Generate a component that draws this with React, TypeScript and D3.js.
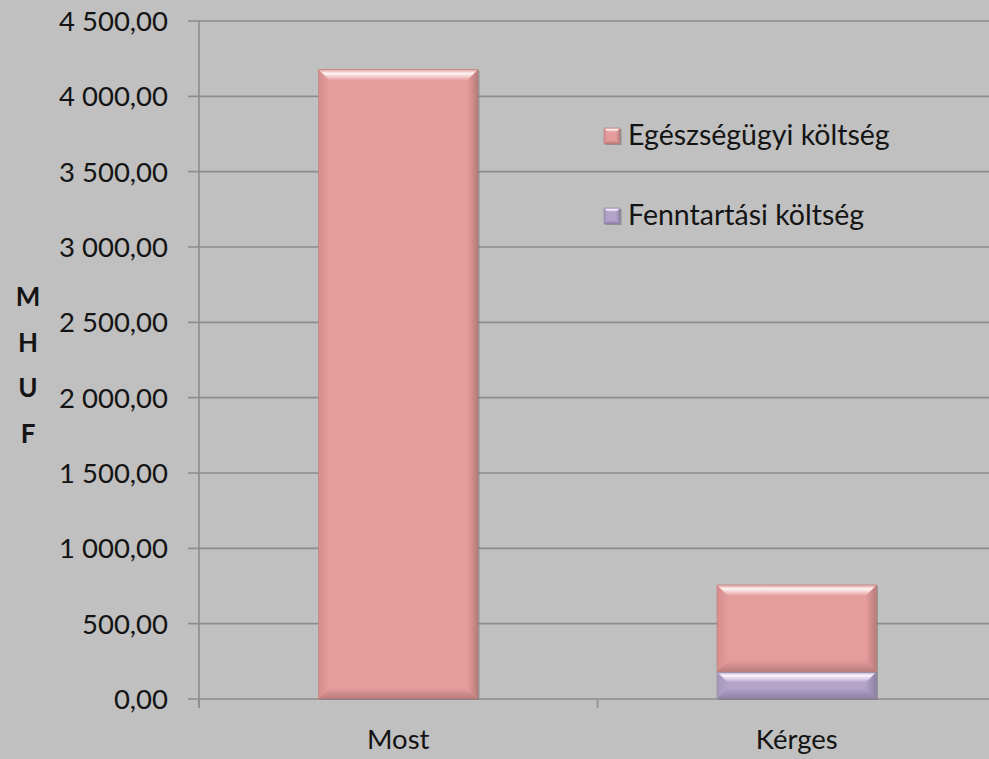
import React from "react";
import * as d3 from "d3";

const categories = ["Most", "Kérges"];
const egeszsegugyi = [4178, 576];
const fenntartasi = [0, 181];
const yTicks = [0, 500, 1000, 1500, 2000, 2500, 3000, 3500, 4000, 4500];
const seriesNames = ["Egészségügyi költség", "Fenntartási költség"];
const axisTitle = ["M", "H", "U", "F"];

const W = 989;
const H = 759;
const FONT = "Lato, 'Open Sans', sans-serif";

const palette = [
  { base: "#e59d9c", light: "#fff4f4", dark: "#b87b7a", side: "#d58e8d" },
  { base: "#b3a3c9", light: "#fbf4ff", dark: "#8d7fa3", side: "#a596bb" },
];

const fmt = (v: number) => {
  const s = v.toFixed(2).replace(".", ",");
  const [i, d] = s.split(",");
  return i.replace(/\B(?=(\d{3})+(?!\d))/g, " ") + "," + d;
};

function BevelRect({ x, y, w, h, c, id }: { x: number; y: number; w: number; h: number; c: typeof palette[0]; id: string }) {
  if (h <= 0) return null;
  const b = Math.min(11, h / 2.5, w / 4);
  const x1 = x + w;
  const y1 = y + h;
  return (
    <g>
      <defs>
        <linearGradient id={`top-${id}`} x1="0" y1="0" x2="0" y2="1">
          <stop offset="0" stopColor={c.base} />
          <stop offset="0.35" stopColor={c.light} />
          <stop offset="1" stopColor={c.base} />
        </linearGradient>
        <linearGradient id={`bot-${id}`} x1="0" y1="0" x2="0" y2="1">
          <stop offset="0" stopColor={c.base} />
          <stop offset="1" stopColor={c.dark} />
        </linearGradient>
        <linearGradient id={`right-${id}`} x1="0" y1="0" x2="1" y2="0">
          <stop offset="0" stopColor={c.base} />
          <stop offset="1" stopColor={c.dark} />
        </linearGradient>
        <linearGradient id={`left-${id}`} x1="0" y1="0" x2="1" y2="0">
          <stop offset="0" stopColor={c.side} />
          <stop offset="1" stopColor={c.base} />
        </linearGradient>
      </defs>
      <rect x={x + 1.5} y={y + 1} width={w} height={h} fill="#6f6f6f" opacity={0.55} />
      <rect x={x} y={y} width={w} height={h} fill={c.base} />
      <polygon points={`${x},${y} ${x + b},${y + b} ${x + b},${y1 - b} ${x},${y1}`} fill={`url(#left-${id})`} />
      <polygon points={`${x1},${y} ${x1},${y1} ${x1 - b},${y1 - b} ${x1 - b},${y + b}`} fill={`url(#right-${id})`} />
      <polygon points={`${x},${y1} ${x + b},${y1 - b} ${x1 - b},${y1 - b} ${x1},${y1}`} fill={`url(#bot-${id})`} />
      <polygon points={`${x},${y} ${x1},${y} ${x1 - b},${y + b} ${x + b},${y + b}`} fill={`url(#top-${id})`} />
      <rect x={x} y={y} width={w} height={h} fill="none" stroke={c.dark} strokeWidth={0.8} opacity={0.7} />
    </g>
  );
}

export default function App() {
  const y = d3.scaleLinear().domain([0, 4500]).range([699, 21]);
  const x = d3.scaleBand<string>().domain(categories).range([199, 996]).padding(0);
  const barW = x.bandwidth() * 0.4;
  const axisX = 199;

  const stacks = categories.map((cat, i) => {
    const cx = (x(cat) as number) + x.bandwidth() / 2;
    const f = fenntartasi[i];
    const e = egeszsegugyi[i];
    return { cat, cx, f, e };
  });

  return (
    <svg width={W} height={H} style={{ position: "absolute", left: 0, top: 0 }} fontFamily={FONT}>
      <rect x={0} y={0} width={W} height={H} fill="#c0c0c0" />
      {yTicks.map((t) => (
        <g key={t}>
          <line x1={188} x2={W} y1={y(t)} y2={y(t)} stroke="#8d8d8d" strokeWidth={1.6} />
          <text x={168} y={y(t) + 10} textAnchor="end" fontSize={27.5} fill="#141414">
            {fmt(t)}
          </text>
        </g>
      ))}
      <line x1={axisX} x2={axisX} y1={y(4500)} y2={y(0) + 9} stroke="#8d8d8d" strokeWidth={1.6} />
      {[199, 199 + x.bandwidth()].map((tx) => (
        <line key={tx} x1={tx} x2={tx} y1={y(0)} y2={y(0) + 9} stroke="#8d8d8d" strokeWidth={1.6} />
      ))}
      {stacks.map((s, i) => (
        <g key={s.cat}>
          <BevelRect id={`f${i}`} x={s.cx - barW / 2} y={y(s.f)} w={barW} h={y(0) - y(s.f)} c={palette[1]} />
          <BevelRect id={`e${i}`} x={s.cx - barW / 2} y={y(s.f + s.e)} w={barW} h={y(s.f) - y(s.f + s.e)} c={palette[0]} />
        </g>
      ))}
      {categories.map((c) => (
        <text key={c} x={(x(c) as number) + x.bandwidth() / 2} y={749} textAnchor="middle" fontSize={27.5} fill="#141414">
          {c}
        </text>
      ))}
      {axisTitle.map((ch, i) => (
        <text key={ch} x={28} y={306 + i * 45.5} textAnchor="middle" fontSize={26} fontWeight="bold" fill="#141414">
          {ch}
        </text>
      ))}
      {seriesNames.map((n, i) => {
        const cy = 136 + i * 80;
        return (
          <g key={n}>
            <BevelRect id={`lg${i}`} x={604} y={cy - 8} w={16} h={16} c={palette[i]} />
            <text x={628} y={cy + 9} fontSize={28.5} fill="#141414">
              {n}
            </text>
          </g>
        );
      })}
    </svg>
  );
}
